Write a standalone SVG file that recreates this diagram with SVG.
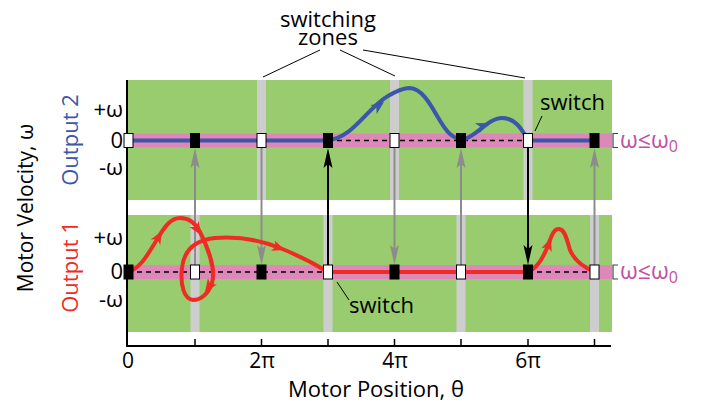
<svg xmlns="http://www.w3.org/2000/svg" width="701" height="405" viewBox="0 0 701 405">
<style>
text{font-family:"Open Sans","DejaVu Sans",sans-serif;fill:#000}
.lbl{font-size:22px}
.tk{font-size:21px;text-anchor:middle}
.panel{fill:#99cc6f}
.zone{fill:#cdcdcd}
.band{fill:#de87b9}
.dash{stroke:#000;stroke-width:1.5;stroke-dasharray:5 4;fill:none}
.blue{stroke:#3b57a7;stroke-width:4;fill:none}
.red{stroke:#ee2b24;stroke-width:4;fill:none}
.sqw{fill:#fff;stroke:#000;stroke-width:1}
.sqb{fill:#000;stroke:#000;stroke-width:1}
.gl{stroke:#8c8c8c;stroke-width:2}
.bl{stroke:#000;stroke-width:2}
.ahg{fill:#8c8c8c}
.ahb{fill:#000}
.lead{stroke:#000;stroke-width:1;fill:none}
.mag{fill:#c1509e;font-size:23px}
</style>
<defs>
<path id="ah" d="M0,0 L-13,-5.5 L-9.5,0 L-13,5.5 Z"/>
</defs>

<g id="panels">
<rect class="panel" x="128" y="80" width="484" height="120"/>
<rect class="panel" x="128" y="215" width="484" height="117"/>
</g>

<g id="zones">
<rect class="zone" x="257" y="80" width="9" height="120"/>
<rect class="zone" x="390" y="80" width="9" height="120"/>
<rect class="zone" x="523.5" y="80" width="9" height="120"/>
<rect class="zone" x="190.5" y="215" width="9" height="117"/>
<rect class="zone" x="323.5" y="215" width="9" height="117"/>
<rect class="zone" x="456.5" y="215" width="9" height="117"/>
<rect class="zone" x="590" y="215" width="9" height="117"/>
</g>

<g id="bands">
<rect class="band" x="128" y="133.5" width="484" height="14"/>
<rect class="band" x="128" y="265" width="484" height="14"/>
<path d="M618,133.5 H613 V147.5 H618" fill="none" stroke="#444" stroke-width="1.2"/>
<path d="M618,265 H613 V279 H618" fill="none" stroke="#444" stroke-width="1.2"/>
</g>

<g id="axes">
<line x1="127" y1="80" x2="127" y2="347" stroke="#000" stroke-width="2"/>
<line x1="126" y1="346" x2="611" y2="346" stroke="#000" stroke-width="2"/>
<g stroke="#000" stroke-width="1.5">
<line x1="195" y1="339" x2="195" y2="346"/>
<line x1="261.5" y1="339" x2="261.5" y2="346"/>
<line x1="328" y1="339" x2="328" y2="346"/>
<line x1="394.5" y1="339" x2="394.5" y2="346"/>
<line x1="461" y1="339" x2="461" y2="346"/>
<line x1="528" y1="339" x2="528" y2="346"/>
<line x1="594.5" y1="339" x2="594.5" y2="346"/>
</g>
</g>

<g id="connectors">
<line class="gl" x1="195" y1="265" x2="195" y2="164"/>
<polygon class="ahg" points="195,148 190.5,168 195,164 199.5,168"/>
<line class="gl" x1="261.5" y1="148" x2="261.5" y2="249"/>
<polygon class="ahg" points="261.5,265 257,245 261.5,249 266,245"/>
<line class="bl" x1="328" y1="265" x2="328" y2="164"/>
<polygon class="ahb" points="328,148 323.5,168 328,164 332.5,168"/>
<line class="gl" x1="394.5" y1="148" x2="394.5" y2="249"/>
<polygon class="ahg" points="394.5,265 390,245 394.5,249 399,245"/>
<line class="gl" x1="461" y1="265" x2="461" y2="164"/>
<polygon class="ahg" points="461,148 456.5,168 461,164 465.5,168"/>
<line class="bl" x1="528" y1="148" x2="528" y2="249"/>
<polygon class="ahb" points="528,265 523.5,245 528,249 532.5,245"/>
<line class="gl" x1="594.5" y1="265" x2="594.5" y2="164"/>
<polygon class="ahg" points="594.5,148 590,168 594.5,164 599,168"/>
</g>

<g id="output2-trace">
<line class="blue" x1="128" y1="140.5" x2="328" y2="140.5"/>
<line class="dash" x1="328" y1="140.5" x2="528" y2="140.5"/>
<line class="blue" x1="528" y1="140.5" x2="595" y2="140.5"/>
<path class="blue" d="M328,140 C352,139 368,107 388,96 C398,90 404,88 410,88 C428,89 438,124 450,134 C455,138 458,140 462,140 C475,138 488,118 502,118 C515,118 521,128 528,140"/>
<use href="#ah" fill="#3b57a7" transform="translate(384,102) rotate(-36)"/>
<use href="#ah" fill="#3b57a7" transform="translate(489,123) rotate(-24)"/>
</g>

<g id="output1-trace">
<line class="dash" x1="128" y1="272" x2="328" y2="272"/>
<line class="red" x1="328" y1="272" x2="528" y2="272"/>
<line class="dash" x1="528" y1="272" x2="595" y2="272"/>
<path class="red" d="M128,272 C142,268 150,250 158,238 C165,226 171,218 180,218 C190,218 196,224 200,232 C208,248 216,270 212,283 C208,295 200,300 193,300 C184,299 180,285 182,268 C184,250 195,240 215,238 C240,236 260,240 280,248 C300,256 315,264 328,272"/>
<use href="#ah" fill="#ee2b24" transform="translate(162,231) rotate(-60)"/>
<use href="#ah" fill="#ee2b24" transform="translate(201,235) rotate(58)"/>
<use href="#ah" fill="#ee2b24" transform="translate(205,292) rotate(125)"/>
<use href="#ah" fill="#ee2b24" transform="translate(285,250) rotate(20)"/>
<path class="red" d="M528,272 C538,268 545,255 550,240 C553,232 555,229 559,229 C565,229 567,240 570,250 C575,262 585,268 595,272"/>
<use href="#ah" fill="#ee2b24" transform="translate(551,238) rotate(-70)"/>
</g>

<g id="squares-top">
<rect class="sqw" x="124" y="133.5" width="9" height="14"/>
<rect class="sqb" x="190.5" y="133.5" width="9" height="14"/>
<rect class="sqw" x="257" y="133.5" width="9" height="14"/>
<rect class="sqb" x="323.5" y="133.5" width="9" height="14"/>
<rect class="sqw" x="390" y="133.5" width="9" height="14"/>
<rect class="sqb" x="456.5" y="133.5" width="9" height="14"/>
<rect class="sqw" x="523.5" y="133.5" width="9" height="14"/>
<rect class="sqb" x="590" y="133.5" width="9" height="14"/>
</g>
<g id="squares-bottom">
<rect class="sqb" x="124" y="265" width="9" height="14"/>
<rect class="sqw" x="190.5" y="265" width="9" height="14"/>
<rect class="sqb" x="257" y="265" width="9" height="14"/>
<rect class="sqw" x="323.5" y="265" width="9" height="14"/>
<rect class="sqb" x="390" y="265" width="9" height="14"/>
<rect class="sqw" x="456.5" y="265" width="9" height="14"/>
<rect class="sqb" x="523.5" y="265" width="9" height="14"/>
<rect class="sqw" x="590" y="265" width="9" height="14"/>
</g>

<g id="labels">
<text class="lbl" x="123" y="117" text-anchor="end">+ω</text>
<text class="lbl" x="123" y="148" text-anchor="end">0</text>
<text class="lbl" x="123" y="175" text-anchor="end">-ω</text>
<text class="lbl" x="123" y="245" text-anchor="end">+ω</text>
<text class="lbl" x="123" y="279" text-anchor="end">0</text>
<text class="lbl" x="123" y="307" text-anchor="end">-ω</text>
<text class="tk" x="128" y="368">0</text>
<text class="tk" x="262" y="368">2π</text>
<text class="tk" x="395" y="368">4π</text>
<text class="tk" x="528" y="368">6π</text>
<text class="lbl" x="376" y="397" text-anchor="middle">Motor Position, θ</text>
<text class="lbl" transform="translate(33,208) rotate(-90)" text-anchor="middle" style="font-size:21px">Motor Velocity, ω</text>
<text class="lbl" transform="translate(78,140) rotate(-90)" text-anchor="middle" style="fill:#3b57a7">Output 2</text>
<text class="lbl" transform="translate(78,267) rotate(-90)" text-anchor="middle" style="fill:#ee2b24">Output 1</text>
<text class="mag" x="620" y="148">ω≤ω<tspan font-size="16" dy="4">0</tspan></text>
<text class="mag" x="620" y="279">ω≤ω<tspan font-size="16" dy="4">0</tspan></text>
</g>

<g id="switching-zones-label">
<text class="lbl" x="328" y="27" text-anchor="middle">switching</text>
<text class="lbl" x="328" y="45" text-anchor="middle">zones</text>
<path class="lead" d="M320,50 L263,77 M340,50 L395,76 M363,50 L525,78"/>
</g>
<g id="switch-top">
<text class="lbl" x="540" y="110">switch</text>
<path class="lead" d="M542,116 L535,131"/>
</g>
<g id="switch-bottom">
<text class="lbl" x="349" y="313">switch</text>
<path class="lead" d="M337,282 L349,300"/>
</g>
</svg>
